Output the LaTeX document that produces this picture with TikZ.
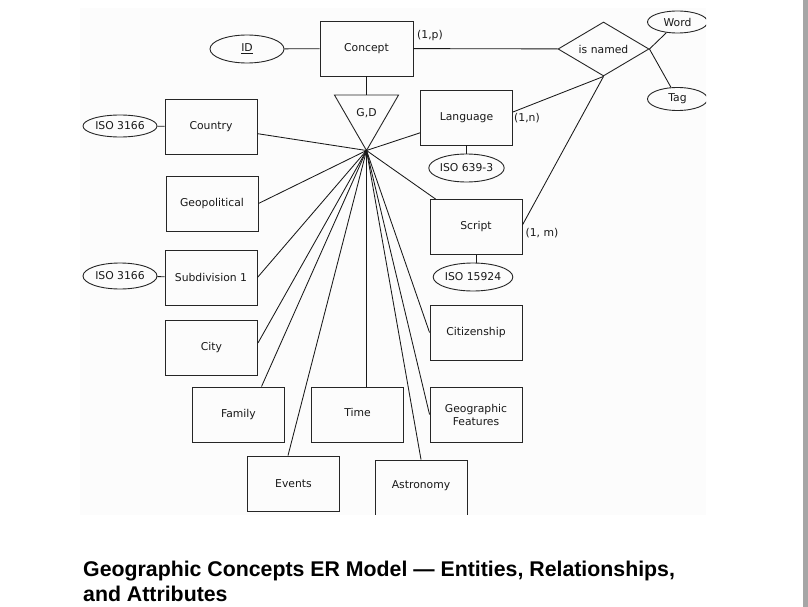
\documentclass[tikz,border=0pt]{standalone}
\usepackage{fontspec}
\setmainfont{DejaVu Sans}
\newfontfamily\titlefont{Liberation Sans}
\usetikzlibrary{shapes.geometric,calc}
\begin{document}
\begin{tikzpicture}[x=1pt,y=-1pt,
  every node/.style={font=\fontsize{10.8}{13}\selectfont, text=black!90},
  entity/.style={draw=black!85, line width=0.9pt, rectangle, minimum width=92pt, minimum height=55pt, inner sep=0pt, align=center},
  attr/.style={draw=black!85, line width=0.9pt, ellipse, inner sep=0pt},
  rel/.style={draw=black!85, line width=0.9pt, diamond, aspect=1.7, minimum width=91pt, minimum height=54pt, inner sep=0pt},
  conn/.style={draw=black!90, line width=0.85pt},
  lbl/.style={inner sep=0pt},
  titletext/.style={anchor=base west, inner sep=0pt, text=black, font=\titlefont\bfseries\fontsize{21.3}{25}\selectfont}]
\useasboundingbox (0,0) rectangle (808,607);
\fill[white] (0,0) rectangle (808,607);
\fill[black!1] (80,8) rectangle (706,515);
\fill[black!35] (803,0) rectangle (808,607);

\begin{scope}
\clip (0,0) rectangle (706,514.6);
% entities and attributes
\node[entity, minimum width=93pt] (concept) at (366.5,48.5) {Concept};
\node[attr, minimum width=74pt, minimum height=28pt] (id) at (247,49) {\underline{ID}};
\node[rel] (named) at (603.5,49) {is named};
\node[attr, minimum width=60pt, minimum height=22pt] (word) at (677.5,22) {Word};
\node[attr, minimum width=60pt, minimum height=23pt] (tag) at (677.5,99) {Tag};
\node[regular polygon, regular polygon sides=3, shape border rotate=180, draw=black!85, line width=0.9pt, minimum size=74pt, inner sep=0pt, outer sep=0pt] (gd) at (366.5,113.5) {G,D};
\coordinate (apex) at (gd.corner 1);

\node[entity] (language) at (466.5,117.5) {Language};
\node[attr, minimum width=73pt, minimum height=28pt] (iso639) at (466.5,168) {ISO 639-3};
\node[entity] (country) at (211,126.5) {Country};
\node[attr, minimum width=74pt, minimum height=22pt] (isoA) at (120,126) {ISO 3166};
\node[entity] (geopol) at (212,203.5) {Geopolitical};
\node[entity] (subdiv) at (211,277.5) {Subdivision 1};
\node[attr, minimum width=74pt, minimum height=26pt] (isoB) at (120,276) {ISO 3166};
\node[entity] (city) at (211.5,347.5) {City};
\node[entity] (script) at (476,227) {Script};
\node[attr, minimum width=78pt, minimum height=28pt] (iso15924) at (473,277) {ISO 15924};
\node[entity] (citizen) at (476,332.5) {Citizenship};
\node[entity] (family) at (238.5,414.5) {Family};
\node[entity, text depth=4pt] (time) at (357.5,414.5) {Time};
\node[entity] (geofeat) at (476,414.5) {Geographic\\Features};
\node[entity] (events) at (293.5,483.5) {Events};
\node[entity, text depth=6pt] (astro) at (421,487.5) {Astronomy};

% cardinality labels
\node[lbl] (lp) at (430,36) {(1,p)};
\node[lbl] (ln) at (527,118) {(1,n)};
\node[lbl] (lm) at (542,233) {(1, m)};

% connectors
\draw[conn] (id) -- (concept);
\draw[conn] (concept) -- (named);
\draw[conn] (concept.south) -- (gd.north);
\draw[conn] (named.east) -- (word);
\draw[conn] (named.east) -- (tag);
\draw[conn] (named.south) -- ([yshift=5.5pt]language.east);
\draw[conn] (named.south) -- ([yshift=2pt]script.east);
\draw[conn] (isoA) -- (country);
\draw[conn] (isoB) -- (subdiv);
\draw[conn] (language) -- (iso639);
\draw[conn] (script.south) -- (script.south |- iso15924.north);

\draw[conn] (apex) -- (country);
\draw[conn] (apex) -- (language);
\draw[conn] (apex) -- (geopol.east);
\draw[conn] (apex) -- (subdiv.east);
\draw[conn] (apex) -- ([yshift=4.5pt]city.east);
\draw[conn] (apex) -- ([xshift=23pt]family.north);
\draw[conn] (apex) -- ([xshift=-5.5pt]events.north);
\draw[conn] (apex) -- (apex |- time.north);
\draw[conn] (apex) -- (astro.north);
\draw[conn] (apex) -- (geofeat.west);
\draw[conn] (apex) -- (citizen.west);
\draw[conn] (apex) -- ([xshift=6pt]script.north west);
\end{scope}

% title
\node[titletext] (title1) at (83,576) {Geographic Concepts ER Model — Entities, Relationships,};
\node[titletext] (title2) at (83,601) {and Attributes};
\end{tikzpicture}
\end{document}
